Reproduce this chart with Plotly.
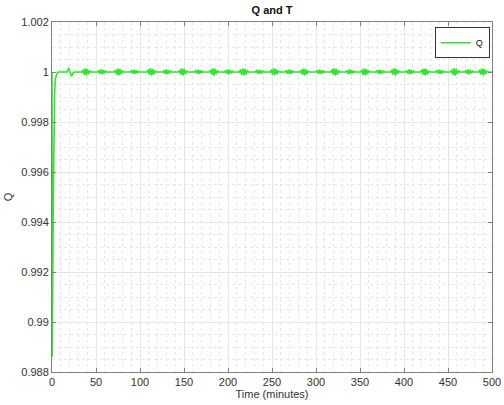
import plotly.graph_objects as go

# Time (minutes) and Q values
time_min = [
    0, 0.25, 0.8, 1.5, 2.2, 3, 4, 5.5, 7, 17, 18.2, 19, 19.8, 21, 22.3, 23.5, 25,
    34, 35.2, 36.5, 37.8, 39, 40.2, 41.5, 42.8, 44,
    52, 53.2, 54.5, 55.8, 57, 58.2, 59.5, 60.8, 62,
    71, 72.2, 73.5, 74.8, 76, 77.2, 78.5, 79.8, 81,
    89, 90.2, 91.5, 92.8, 94, 95.2, 96.5, 97.8, 99,
    108, 109.2, 110.5, 111.8, 113, 114.2, 115.5, 116.8, 118,
    126, 127.2, 128.5, 129.8, 131, 132.2, 133.5, 134.8, 136,
    144, 145.2, 146.5, 147.8, 149, 150.2, 151.5, 152.8, 154,
    162, 163.2, 164.5, 165.8, 167, 168.2, 169.5, 170.8, 172,
    179, 180.2, 181.5, 182.8, 184, 185.2, 186.5, 187.8, 189,
    196, 197.2, 198.5, 199.8, 201, 202.2, 203.5, 204.8, 206,
    213, 214.2, 215.5, 216.8, 218, 219.2, 220.5, 221.8, 223,
    231, 232.2, 233.5, 234.8, 236, 237.2, 238.5, 239.8, 241,
    248, 249.2, 250.5, 251.8, 253, 254.2, 255.5, 256.8, 258,
    265, 266.2, 267.5, 268.8, 270, 271.2, 272.5, 273.8, 275,
    282, 283.2, 284.5, 285.8, 287, 288.2, 289.5, 290.8, 292,
    300, 301.2, 302.5, 303.8, 305, 306.2, 307.5, 308.8, 310,
    317, 318.2, 319.5, 320.8, 322, 323.2, 324.5, 325.8, 327,
    334, 335.2, 336.5, 337.8, 339, 340.2, 341.5, 342.8, 344,
    351, 352.2, 353.5, 354.8, 356, 357.2, 358.5, 359.8, 361,
    368, 369.2, 370.5, 371.8, 373, 374.2, 375.5, 376.8, 378,
    385, 386.2, 387.5, 388.8, 390, 391.2, 392.5, 393.8, 395,
    402, 403.2, 404.5, 405.8, 407, 408.2, 409.5, 410.8, 412,
    419, 420.2, 421.5, 422.8, 424, 425.2, 426.5, 427.8, 429,
    436, 437.2, 438.5, 439.8, 441, 442.2, 443.5, 444.8, 446,
    453, 454.2, 455.5, 456.8, 458, 459.2, 460.5, 461.8, 463,
    469, 470.2, 471.5, 472.8, 474, 475.2, 476.5, 477.8, 479,
    485, 486.2, 487.5, 488.8, 490, 491.2, 492.5, 493.8, 495,
    500,
]

q_value = [
    1.0, 0.9886, 0.9915, 0.9950, 0.9978, 0.9992, 0.99975, 0.99993, 1.0, 1.0, 1.00008, 1.00017, 1.00005, 0.99990, 0.99982, 0.99993, 1.0,
    1.0, 1.00009, 0.99990, 1.00015, 0.99985, 1.00013, 0.99991, 1.00006, 1.0,
    1.0, 1.00006, 0.99993, 1.00010, 0.99991, 1.00008, 0.99994, 1.00004, 1.0,
    1.0, 1.00009, 0.99989, 1.00014, 0.99986, 1.00012, 0.99991, 1.00006, 1.0,
    1.0, 1.00005, 0.99994, 1.00009, 0.99992, 1.00007, 0.99995, 1.00003, 1.0,
    1.0, 1.00010, 0.99990, 1.00015, 0.99985, 1.00013, 0.99990, 1.00006, 1.0,
    1.0, 1.00006, 0.99993, 1.00010, 0.99991, 1.00008, 0.99994, 1.00004, 1.0,
    1.0, 1.00009, 0.99990, 1.00014, 0.99986, 1.00012, 0.99991, 1.00005, 1.0,
    1.0, 1.00005, 0.99994, 1.00009, 0.99992, 1.00007, 0.99995, 1.00003, 1.0,
    1.0, 1.00009, 0.99990, 1.00015, 0.99985, 1.00013, 0.99991, 1.00006, 1.0,
    1.0, 1.00006, 0.99993, 1.00010, 0.99991, 1.00008, 0.99994, 1.00004, 1.0,
    1.0, 1.00010, 0.99989, 1.00014, 0.99986, 1.00012, 0.99990, 1.00006, 1.0,
    1.0, 1.00005, 0.99994, 1.00009, 0.99992, 1.00007, 0.99995, 1.00003, 1.0,
    1.0, 1.00009, 0.99990, 1.00015, 0.99985, 1.00013, 0.99991, 1.00006, 1.0,
    1.0, 1.00006, 0.99993, 1.00010, 0.99991, 1.00008, 0.99994, 1.00004, 1.0,
    1.0, 1.00009, 0.99990, 1.00014, 0.99986, 1.00012, 0.99991, 1.00005, 1.0,
    1.0, 1.00005, 0.99994, 1.00009, 0.99992, 1.00007, 0.99995, 1.00003, 1.0,
    1.0, 1.00010, 0.99990, 1.00015, 0.99985, 1.00013, 0.99990, 1.00006, 1.0,
    1.0, 1.00006, 0.99993, 1.00010, 0.99991, 1.00008, 0.99994, 1.00004, 1.0,
    1.0, 1.00009, 0.99989, 1.00014, 0.99986, 1.00012, 0.99991, 1.00006, 1.0,
    1.0, 1.00005, 0.99994, 1.00009, 0.99992, 1.00007, 0.99995, 1.00003, 1.0,
    1.0, 1.00009, 0.99990, 1.00015, 0.99985, 1.00013, 0.99991, 1.00006, 1.0,
    1.0, 1.00006, 0.99993, 1.00010, 0.99991, 1.00008, 0.99994, 1.00004, 1.0,
    1.0, 1.00010, 0.99990, 1.00014, 0.99986, 1.00012, 0.99990, 1.00005, 1.0,
    1.0, 1.00005, 0.99994, 1.00009, 0.99992, 1.00007, 0.99995, 1.00003, 1.0,
    1.0, 1.00009, 0.99990, 1.00015, 0.99985, 1.00013, 0.99991, 1.00006, 1.0,
    1.0, 1.00006, 0.99993, 1.00010, 0.99991, 1.00008, 0.99994, 1.00004, 1.0,
    1.0, 1.00009, 0.99990, 1.00014, 0.99986, 1.00012, 0.99991, 1.00005, 1.0,
    1.0,
]

x_ticks = [0, 50, 100, 150, 200, 250, 300, 350, 400, 450, 500]
y_ticks = [0.988, 0.99, 0.992, 0.994, 0.996, 0.998, 1.0, 1.002]
y_ticktext = ["0.988", "0.99", "0.992", "0.994", "0.996", "0.998", "1", "1.002"]

fig = go.Figure()
fig.add_trace(go.Scatter(
    x=time_min, y=q_value, mode="lines", name="Q",
    line=dict(color="#2ee62e", width=1.6),
))

font_family = "Liberation Sans, Arial, sans-serif"
axis_common = dict(
    showline=True, mirror="ticks", linecolor="#808080", linewidth=1,
    ticks="inside", ticklen=4, tickcolor="#808080",
    showgrid=True, gridcolor="#e6e6e6", gridwidth=1,
    zeroline=False, automargin=False,
    tickfont=dict(family=font_family, size=11, color="#333333"),
)

fig.update_layout(
    width=504, height=405,
    paper_bgcolor="white", plot_bgcolor="white",
    margin=dict(l=52, r=12, t=22, b=33),
    title=dict(text="<b>Q and T</b>", x=0.5, xref="paper", y=1 - 10 / 405,
               yref="container", xanchor="center", yanchor="middle",
               font=dict(family=font_family, size=11, color="#111111")),
    showlegend=True,
    legend=dict(x=0.995, y=0.985, xanchor="right", yanchor="top",
                bordercolor="#333333", borderwidth=1, bgcolor="white",
                font=dict(family=font_family, size=9, color="#111111"),
                itemwidth=30, tracegroupgap=0),
    xaxis=dict(
        range=[0, 500], tickvals=x_ticks,
        title=dict(text="Time (minutes)", standoff=2,
                   font=dict(family=font_family, size=11, color="#333333")),
        minor=dict(dtick=10, showgrid=True, gridcolor="#e6e6e6", griddash="dot", ticks=""),
        **axis_common,
    ),
    yaxis=dict(
        range=[0.988, 1.002], tickvals=y_ticks, ticktext=y_ticktext,
        title=dict(text="Q", standoff=6,
                   font=dict(family=font_family, size=11, color="#333333")),
        minor=dict(dtick=0.0005, showgrid=True, gridcolor="#e6e6e6", griddash="dot", ticks=""),
        **axis_common,
    ),
)

fig.write_html("out.html")
